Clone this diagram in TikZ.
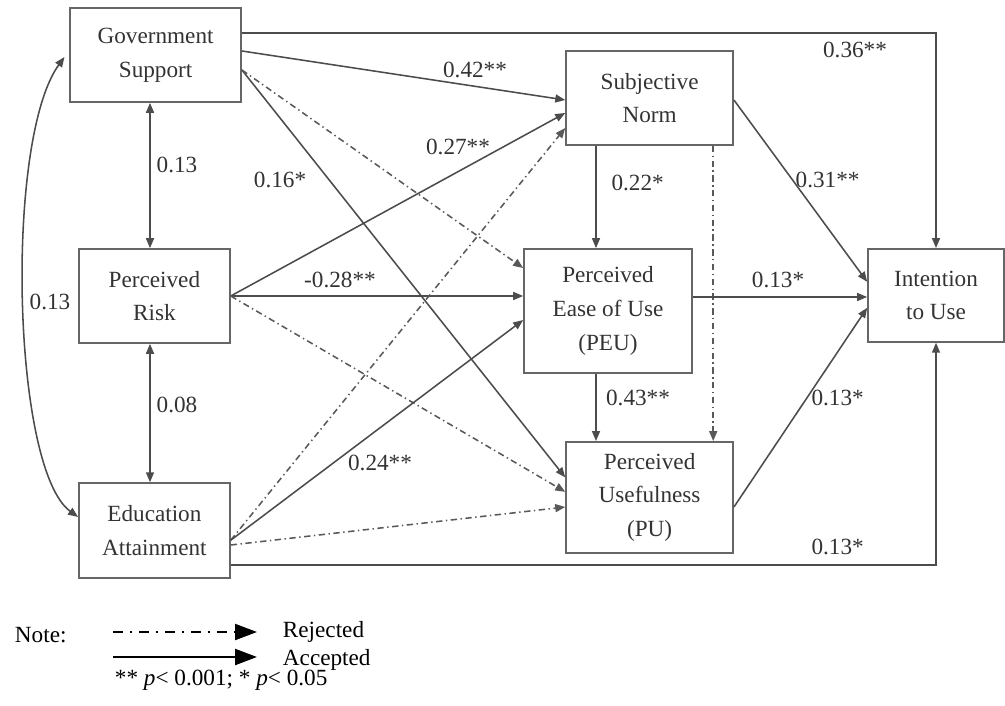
\documentclass[tikz,border=0pt]{standalone}
\usepackage{fontspec}
\setmainfont{Liberation Serif}
\usetikzlibrary{arrows.meta}

\begin{document}
\begin{tikzpicture}[
  font=\fontsize{16.5}{24}\selectfont,
  >={Triangle[length=0.25cm,width=0.2cm]},
  box/.style={draw=black!60, line width=1.2pt, align=center, inner sep=0pt, text=black!80},
  accepted/.style={draw=black!70, line width=1.1pt},
  rejected/.style={draw=black!65, line width=1.1pt, dash pattern=on 4.5pt off 2.5pt on 1pt off 2.5pt},
  coef/.style={text=black!80}
]
  \useasboundingbox (0,0) rectangle (25.125,17.625);

  \node[box, minimum width=4.275cm, minimum height=2.35cm] (gs) at (3.89,16.25) {Government\\Support};
  \node[box, minimum width=3.775cm, minimum height=2.35cm] (pr) at (3.86,10.225) {Perceived\\Risk};
  \node[box, minimum width=3.775cm, minimum height=2.375cm] (ea) at (3.86,4.36) {Education\\Attainment};
  \node[box, minimum width=4.175cm, minimum height=2.35cm] (sn) at (16.24,15.175) {Subjective\\Norm};
  \node[box, minimum width=4.2cm, minimum height=3.1cm] (peu) at (15.2,9.85) {Perceived\\Ease of Use\\(PEU)};
  \node[box, minimum width=4.175cm, minimum height=2.775cm] (pu) at (16.24,5.19) {Perceived\\Usefulness\\(PU)};
  \node[box, minimum width=3.4cm, minimum height=2.325cm] (itu) at (23.4,10.24) {Intention\\to Use};

  \draw[accepted, <->] ([xshift=-0.14cm]gs.south) -- ([xshift=-0.14cm]gs.south |- pr.north);
  \draw[accepted, <->] ([xshift=-0.11cm]pr.south) -- ([xshift=-0.11cm]pr.south |- ea.north);
  \draw[accepted, <->] ([xshift=-0.12cm,yshift=-0.05cm]gs.west)
    .. controls +(-1.5,-2.075) and +(-1.65,1.2) .. ([yshift=0.34cm]ea.west);

  \draw[accepted, ->] ([yshift=0.55cm]gs.east) -| (itu.north);
  \draw[accepted, ->] ([yshift=0.1cm]gs.east) -- ([yshift=-0.05cm]sn.west);
  \draw[accepted, ->] ([yshift=-0.375cm]gs.east) -- ([yshift=0.5cm]pu.west);
  \draw[rejected, ->] ([yshift=-0.375cm]gs.east) -- ([yshift=1.075cm]peu.west);

  \draw[accepted, ->] (pr.east) -- ([yshift=-0.375cm]sn.west);
  \draw[accepted, ->] (pr.east) -- (pr.east -| peu.west);
  \draw[rejected, ->] (pr.east) -- ([yshift=0.14cm]pu.west);

  \draw[rejected, ->] ([yshift=-0.24cm]ea.east) -- ([yshift=-0.75cm]sn.west);
  \draw[accepted, ->] ([yshift=-0.24cm]ea.east) -- ([yshift=-0.225cm]peu.west);
  \draw[rejected, ->] ([yshift=-0.36cm]ea.east) -- ([yshift=-0.24cm]pu.west);
  \draw[accepted, ->] ([yshift=-0.86cm]ea.east) -| (itu.south);

  \draw[accepted, ->] ([xshift=-1.34cm]sn.south) -- ([xshift=-1.34cm]sn.south |- peu.north);
  \draw[rejected, ->] ([xshift=1.59cm]sn.south) -- ([xshift=1.59cm]sn.south |- pu.north);
  \draw[accepted, ->] ([xshift=-0.3cm]peu.south) -- ([xshift=-0.3cm]peu.south |- pu.north);

  \draw[accepted, ->] ([yshift=-0.05cm]sn.east) -- ([yshift=0.34cm]itu.west);
  \draw[accepted, ->] ([yshift=0.35cm]peu.east) -- ([yshift=0.35cm]peu.east -| itu.west);
  \draw[accepted, ->] ([yshift=-0.24cm]pu.east) -- ([yshift=-0.31cm]itu.west);

  \node[coef] (c1) at (21.375,16.375) {0.36**};
  \node[coef] (c2) at (11.875,15.875) {0.42**};
  \node[coef] (c3) at (11.45,13.95) {0.27**};
  \node[coef] (c4) at (7.0,13.125) {0.16*};
  \node[coef] (c5) at (4.425,13.5) {0.13};
  \node[coef] (c6) at (4.425,7.5) {0.08};
  \node[coef] (c7) at (1.25,10.08) {0.13};
  \node[coef] (c8) at (8.5,10.625) {-0.28**};
  \node[coef] (c9) at (9.5,6.05) {0.24**};
  \node[coef] (c10) at (15.94,13.05) {0.22*};
  \node[coef] (c11) at (15.95,7.675) {0.43**};
  \node[coef] (c12) at (20.69,13.125) {0.31**};
  \node[coef] (c13) at (19.45,10.625) {0.13*};
  \node[coef] (c14) at (20.94,7.675) {0.13*};
  \node[coef] (c15) at (20.94,3.95) {0.13*};

  \coordinate (rej0) at (2.825,1.825);
  \coordinate (rej1) at (6.425,1.825);
  \coordinate (acc0) at (2.825,1.2);
  \coordinate (acc1) at (6.425,1.2);
  \draw[line width=1.6pt, dash pattern=on 7pt off 5pt on 1.5pt off 5pt, -{Triangle[length=0.55cm,width=0.4cm]}] (rej0) -- (rej1);
  \draw[line width=1.6pt, -{Triangle[length=0.55cm,width=0.4cm]}] (acc0) -- (acc1);
  \node[anchor=west] (note) at (0.25,1.75) {Note:};
  \node[anchor=west] (rej) at (6.95,1.825) {Rejected};
  \node[anchor=west] (acc) at (6.95,1.125) {Accepted};
  \node[anchor=west] (sig) at (2.75,0.625) {** \textit{p}< 0.001; * \textit{p}< 0.05};

\end{tikzpicture}
\end{document}
